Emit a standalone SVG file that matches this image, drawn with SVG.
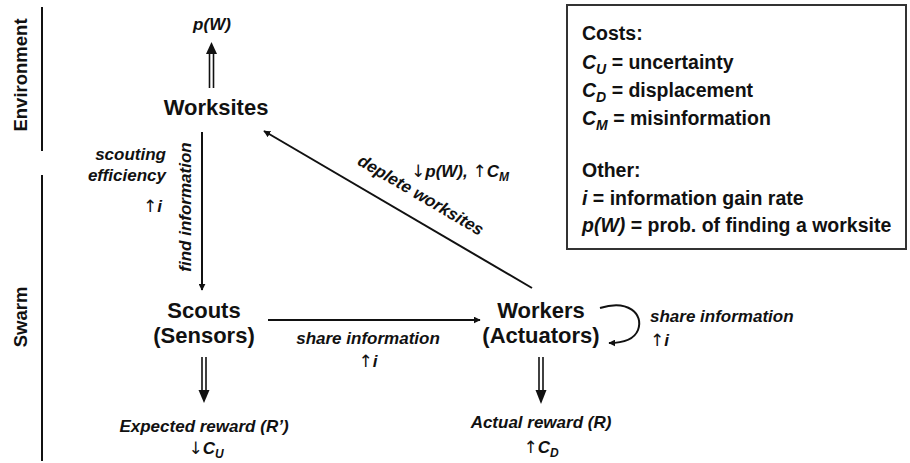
<svg xmlns="http://www.w3.org/2000/svg" width="910" height="463" viewBox="0 0 910 463">
<defs>
<marker id="ah" viewBox="0 0 10 10" refX="9" refY="5" markerWidth="7" markerHeight="7" markerUnits="userSpaceOnUse" orient="auto"><path d="M0,0 L10,5 L0,10 z" fill="#111"/></marker>
</defs>
<style>
text{font-family:"Liberation Sans","DejaVu Sans",Arial,sans-serif;fill:#111}
.node{font-size:22px;font-weight:bold;text-anchor:middle}
.side{font-size:18.5px;font-weight:bold;text-anchor:middle}
.lab{font-size:17px;font-weight:bold;font-style:italic}
.leg{font-size:19.5px;font-weight:bold}
.arr{font-style:normal;font-weight:normal;font-family:"DejaVu Sans","Liberation Sans",sans-serif}
.ln{stroke:#111;stroke-width:2;fill:none}
.dl{stroke:#111;stroke-width:1.6;fill:none}
</style>
<rect width="910" height="463" fill="#fff"/>
<g id="sides">
<line x1="42" y1="7" x2="42" y2="151" class="ln"/>
<line x1="42" y1="175" x2="42" y2="461" class="ln"/>
<text class="side" transform="translate(27,75) rotate(-90)">Environment</text>
<text class="side" transform="translate(27,317) rotate(-90)">Swarm</text>
</g>
<g id="legend">
<rect x="567" y="5" width="339" height="244" fill="none" stroke="#333" stroke-width="2"/>
<text class="leg" x="582" y="40">Costs:</text>
<text class="leg" x="582" y="69"><tspan font-style="italic">C<tspan font-size="14" dy="5">U</tspan></tspan><tspan dy="-5"> = uncertainty</tspan></text>
<text class="leg" x="582" y="97"><tspan font-style="italic">C<tspan font-size="14" dy="5">D</tspan></tspan><tspan dy="-5"> = displacement</tspan></text>
<text class="leg" x="582" y="125"><tspan font-style="italic">C<tspan font-size="14" dy="5">M</tspan></tspan><tspan dy="-5"> = misinformation</tspan></text>
<text class="leg" x="582" y="177">Other:</text>
<text class="leg" x="582" y="205"><tspan font-style="italic">i</tspan> = information gain rate</text>
<text class="leg" x="582" y="232"><tspan font-style="italic">p(W)</tspan> = prob. of finding a worksite</text>
</g>
<g id="worksites">
<text class="node" x="216" y="115">Worksites</text>
</g>
<g id="pw">
<text class="lab" x="212" y="30" text-anchor="middle">p(W)</text>
</g>
<g id="scouts">
<text class="node" x="204" y="318">Scouts</text>
<text class="node" x="204" y="343">(Sensors)</text>
</g>
<g id="workers">
<text class="node" x="541" y="318">Workers</text>
<text class="node" x="541" y="343">(Actuators)</text>
</g>
<g id="expected">
<text class="lab" x="204" y="432" text-anchor="middle">Expected reward (R’)</text>
<text class="lab" x="206" y="454" text-anchor="middle"><tspan class="arr">↓</tspan>C<tspan font-size="12" dy="4">U</tspan></text>
</g>
<g id="actual">
<text class="lab" x="541" y="428" text-anchor="middle">Actual reward (R)</text>
<text class="lab" x="541" y="453" text-anchor="middle"><tspan class="arr">↑</tspan>C<tspan font-size="12" dy="4">D</tspan></text>
</g>
<g id="connectors">
<line x1="209.5" y1="88" x2="209.5" y2="52" class="dl"/>
<line x1="213.5" y1="88" x2="213.5" y2="52" class="dl"/>
<path d="M206,54 L211.5,42 L217,54 z" fill="#111"/>
<line x1="202" y1="132" x2="202" y2="290" class="ln" marker-end="url(#ah)"/>
<text class="lab" x="166" y="160" text-anchor="end">scouting</text>
<text class="lab" x="166" y="181" text-anchor="end">efficiency</text>
<text class="lab" x="162" y="212" text-anchor="end"><tspan class="arr">↑</tspan>i</text>
<text class="lab" transform="translate(191,207) rotate(-90)" text-anchor="middle">find information</text>
<line x1="202" y1="357" x2="202" y2="392" class="dl"/>
<line x1="206" y1="357" x2="206" y2="392" class="dl"/>
<path d="M198.5,390 L204,403 L209.5,390 z" fill="#111"/>
<line x1="268" y1="320" x2="480" y2="320" class="ln" marker-end="url(#ah)"/>
<text class="lab" x="368" y="344" text-anchor="middle">share information</text>
<text class="lab" x="368" y="367" text-anchor="middle"><tspan class="arr">↑</tspan>i</text>
<line x1="532" y1="288" x2="264" y2="131" class="ln" marker-end="url(#ah)"/>
<text class="lab" transform="translate(418,200) rotate(30.4)" text-anchor="middle">deplete worksites</text>
<text class="lab" x="411" y="177"><tspan class="arr">↓</tspan>p(W), <tspan class="arr">↑</tspan>C<tspan font-size="12" dy="4">M</tspan></text>
<path d="M600,308 C628,299 644,314 638,330 C634,340 622,343 609,343" class="ln" marker-end="url(#ah)"/>
<text class="lab" x="650" y="322">share information</text>
<text class="lab" x="650" y="346"><tspan class="arr">↑</tspan>i</text>
<line x1="539" y1="357" x2="539" y2="392" class="dl"/>
<line x1="543" y1="357" x2="543" y2="392" class="dl"/>
<path d="M535.5,390 L541,404 L546.5,390 z" fill="#111"/>
</g>
</svg>
